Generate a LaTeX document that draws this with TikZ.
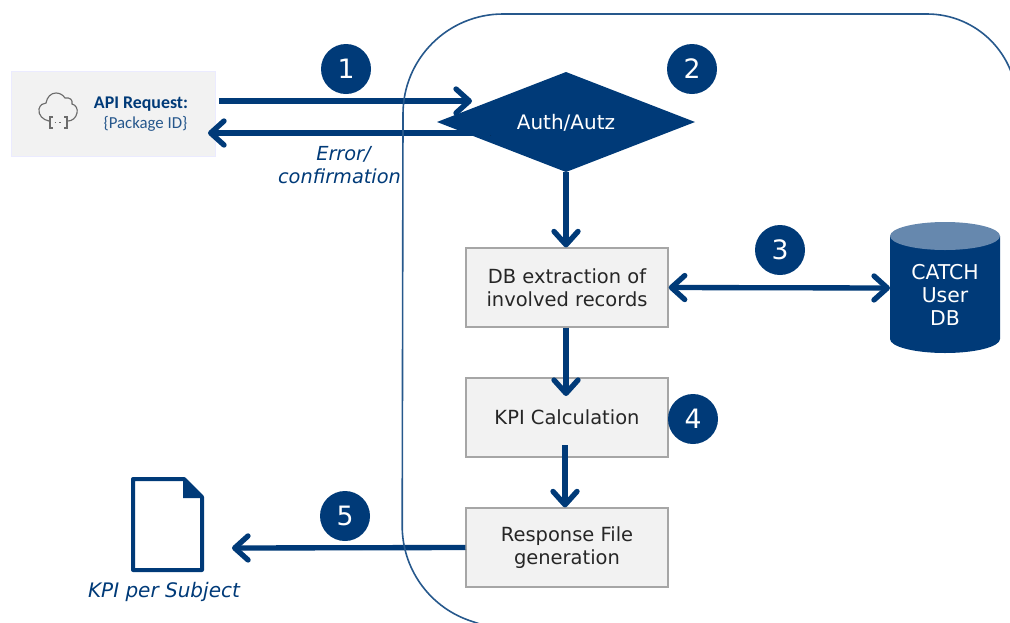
\documentclass[tikz,border=0pt]{standalone}
\usepackage{fontspec}
\setmainfont{DejaVu Sans}
\newfontfamily\calib{Carlito}
\usetikzlibrary{arrows.meta,shapes.geometric,calc}
\definecolor{navy}{HTML}{003A78}
\definecolor{boxfill}{HTML}{F2F2F2}
\definecolor{boxline}{HTML}{A6A6A6}
\definecolor{dbtop}{HTML}{6688AE}
\tikzset{
 x=0.75pt,y=-0.75pt,
 flowbox/.style={draw=boxline,line width=1.1pt,fill=boxfill,minimum width=151.5pt,minimum height=59pt,align=center,inner sep=0pt,text=black!85,font=\fontsize{14.6}{17.2}\selectfont},
 badge/.style={circle,fill=navy,text=white,minimum size=37.5pt,inner sep=0pt,font=\fontsize{20}{22}\selectfont},
 barb/.tip={Straight Barb[round,length=10pt,width=18pt,line width=4pt]},
 softshadow/.style={preaction={draw=black,opacity=.18,transform canvas={shift={(.8pt,-1.5pt)}}}},
 flow/.style={draw=navy,line width=4pt,-barb,softshadow},
 flowboth/.style={draw=navy,line width=4pt,barb-barb,softshadow},
 caption/.style={text=navy,font=\fontsize{14.5}{17.4}\itshape\selectfont,align=center,inner sep=0pt},
}
\begin{document}
\begin{tikzpicture}
\useasboundingbox (0,0) rectangle (1010,622);
% API box
\node[draw=blue!8!white,fill=boxfill,line width=.6pt,minimum width=153pt,minimum height=64pt,inner sep=0pt] (api) at (113.5,114) {};
\node[text=navy,inner sep=0pt,font=\calib\bfseries\fontsize{13.4}{15}\selectfont] (apititle) at (141,104) {API Request:};
\node[text=navy!85!white,inner sep=0pt,font=\calib\fontsize{12.6}{15}\selectfont] (apiid) at (145.5,124) {\{Package ID\}};
% cloud icon
\draw[gray!85!black,line width=.85pt,line cap=round] (49,121) .. controls (43,120) and (38,115) .. (39,109) .. controls (40,105) and (43,103) .. (46,103) .. controls (47,97) and (51,93) .. (56,93) .. controls (60,93) and (63,95) .. (65,98) .. controls (70,97) and (73,100) .. (72,104) .. controls (76,105) and (78,109) .. (77,113) .. controls (76,118) and (72,121) .. (68,121);
\draw[gray!85!black,line width=.85pt] (53,117) -- (50,117) -- (50,128) -- (53,128) (64,117) -- (67,117) -- (67,128) -- (64,128);
\draw[gray!85!black,line width=1pt,dash pattern=on 1.2pt off 2.3pt] (54.5,122.5) -- (63,122.5);
% diamond
\path[fill=navy] (566,72) coordinate (dTop) -- (695,122) -- (566,172) coordinate (dBot) -- (437,122) -- cycle;
\node[text=white,inner sep=0pt,font=\fontsize{15}{17}\selectfont] (auth) at (566,123) {Auth/Autz};
% connectors
\coordinate (inTip) at (472,101);
\coordinate (backStart) at (490,133);
\coordinate (backTip) at (208,133);
\draw[flow] ($(api.east)+(2.2pt,9.75pt)$) -- (inTip);
\draw[flow] (backStart) -- (backTip);
% boxes
\node[flowbox] (db) at (567,287.5) {DB extraction of\\involved records};
\node[flowbox] (kpi) at (567,417.5) {KPI Calculation};
\node[flowbox] (resp) at (567,547.5) {Response File\\generation};
\coordinate (kpiIn) at (566,396);
\coordinate (kpiOut) at (565,445);
\draw[flow] (dBot) -- (dBot |- db.north);
\draw[flow] (kpiIn |- db.south) -- (kpiIn);
\draw[flow] (kpiOut) -- (kpiOut |- resp.north);
% database
\fill[navy] (890,236) -- (890,339) arc[start angle=180,end angle=90,x radius=55,y radius=14] arc[start angle=90,end angle=0,x radius=55,y radius=14] -- (1000,236) -- cycle;
\fill[dbtop] (945,236) ellipse[x radius=55,y radius=14];
\node[text=white,inner sep=0pt,align=center,font=\fontsize{15.3}{17.2}\selectfont] (catch) at (945,295) {CATCH\\User\\DB};
\coordinate (dbWest) at (890,288);
\draw[flowboth] (db.east) -- (dbWest);
% document
\draw[navy,line width=3pt,line join=round,fill=white] (133,479) -- (184,479) -- (202,497) -- (202,570) -- (133,570) -- cycle;
\fill[navy] (183,479) -- (202,497) -- (202,498) -- (183,498) -- cycle;
\coordinate (docTip) at (232,548);
\draw[flow] (resp.west) -- (docTip);
% large rounded frame
\draw[draw=navy!85!white,line width=1.2pt] (480,624) -- (468,620) arc[start angle=110,end angle=180,radius=100] -- (403,114) arc[start angle=180,end angle=270,radius=100] -- (927,14) arc[start angle=270,end angle=360,radius=90] -- (1017,140);
% badges
\node[badge] (b1) at (346,69) {1};
\node[badge] (b2) at (692,69) {2};
\node[badge] (b3) at (780,250) {3};
\node[badge] (b4) at (693,419) {4};
\node[badge] (b5) at (345,516) {5};
% captions
\node[caption] (err) at (339.5,165) {\hspace*{6pt}Error/\\confirmation};
\node[caption,font=\fontsize{15}{17.4}\itshape\selectfont] (kpis) at (164,592) {KPI per Subject};
\end{tikzpicture}
\end{document}
